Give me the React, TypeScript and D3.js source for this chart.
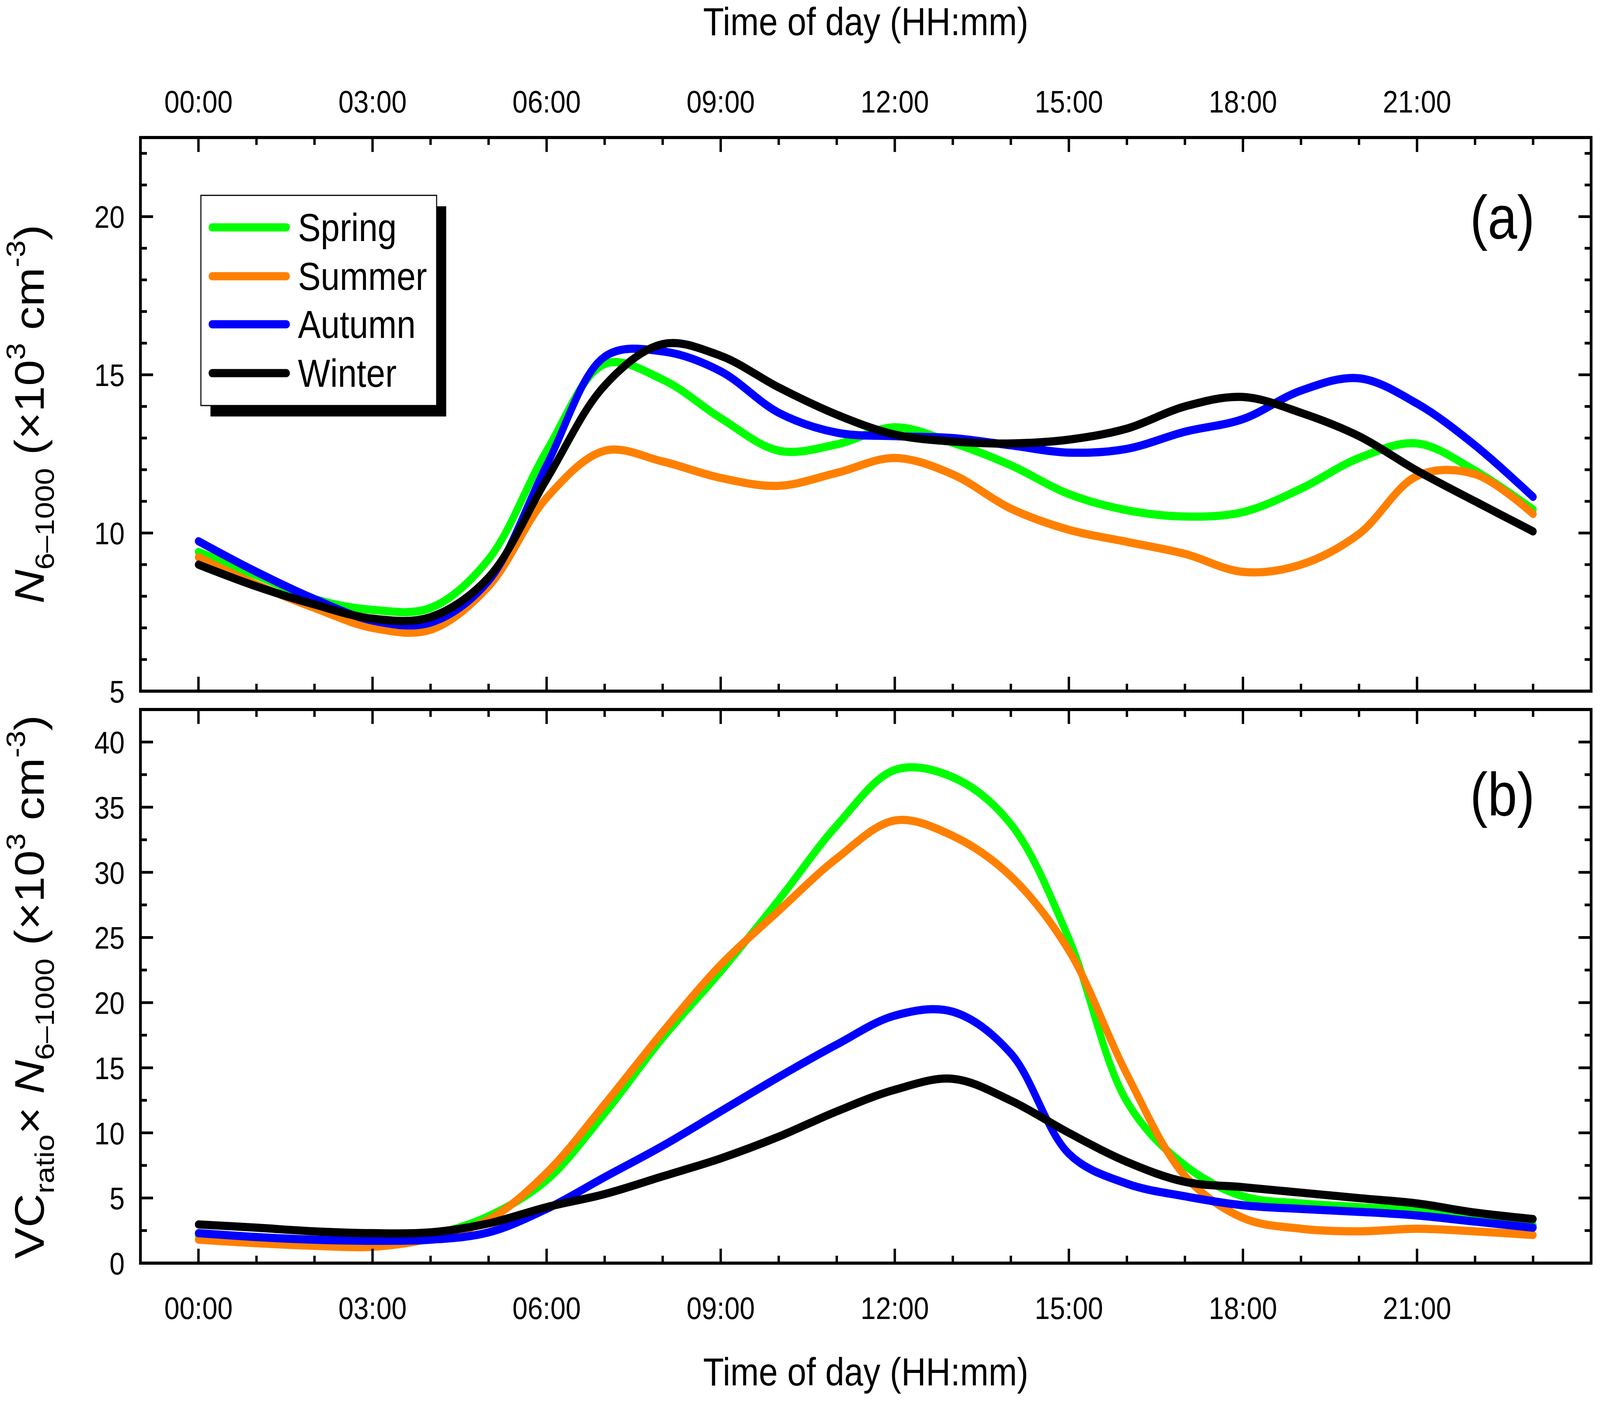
import React from "react"
import * as d3 from "d3"

// hourly diurnal means (hour of day 0..23)
const hours = [0, 1, 2, 3, 4, 5, 6, 7, 8, 9, 10, 11, 12, 13, 14, 15, 16, 17, 18, 19, 20, 21, 22, 23]

// (a) N6-1000 (x10^3 cm^-3)
const springN = [9.4, 8.66, 7.91, 7.57, 7.63, 9.17, 12.6, 15.34, 14.85, 13.63, 12.6, 12.8, 13.34, 12.85, 12.14, 11.23, 10.72, 10.52, 10.66, 11.4, 12.37, 12.83, 11.97, 10.74]
const summerN = [9.23, 8.37, 7.63, 7.0, 6.94, 8.31, 11.11, 12.6, 12.26, 11.74, 11.49, 11.9, 12.37, 11.85, 10.77, 10.1, 9.72, 9.34, 8.77, 9.0, 9.97, 11.8, 11.86, 10.6]
const autumnN = [9.74, 8.77, 7.91, 7.23, 7.17, 8.49, 12.14, 15.57, 15.74, 15.11, 13.8, 13.17, 13.06, 13.0, 12.77, 12.54, 12.66, 13.2, 13.6, 14.5, 14.89, 14.09, 12.77, 11.14]
const winterN = [9.0, 8.31, 7.74, 7.29, 7.34, 8.6, 11.69, 14.66, 15.97, 15.6, 14.6, 13.74, 13.11, 12.89, 12.83, 12.95, 13.3, 14.0, 14.3, 13.8, 13.06, 11.97, 11.0, 10.05]

// (b) VCratio x N6-1000 (x10^3 cm^-3)
const springVC = [2.1, 1.8, 1.7, 1.66, 2.15, 3.6, 6.38, 11.5, 17.3, 22.4, 27.88, 33.6, 37.86, 37.3, 33.7, 24.9, 12.4, 7.5, 5.13, 4.58, 4.3, 4.02, 3.47, 2.91]
const summerVC = [1.8, 1.53, 1.33, 1.25, 1.9, 3.33, 6.93, 12.2, 17.75, 22.9, 27.05, 31.07, 33.98, 32.8, 29.7, 24.0, 14.5, 6.7, 3.47, 2.64, 2.44, 2.64, 2.44, 2.16]
const autumnVC = [2.3, 2.0, 1.8, 1.72, 1.8, 2.36, 4.16, 6.6, 9.0, 11.65, 14.29, 16.78, 19.0, 19.3, 16.1, 8.4, 6.1, 5.13, 4.44, 4.16, 3.94, 3.66, 3.19, 2.72]
const winterVC = [2.97, 2.72, 2.44, 2.3, 2.36, 3.05, 4.3, 5.3, 6.66, 8.04, 9.71, 11.65, 13.31, 14.15, 12.48, 10.0, 7.77, 6.24, 5.83, 5.41, 4.99, 4.58, 3.88, 3.38]

const seasons = ["Spring", "Summer", "Autumn", "Winter"]
const colors = ["#00ff00", "#ff8000", "#0000ff", "#000000"]

const timeTicks = [0, 3, 6, 9, 12, 15, 18, 21]
const timeLabels = ["00:00", "03:00", "06:00", "09:00", "12:00", "15:00", "18:00", "21:00"]
const yTicksA = [5, 10, 15, 20]
const yTicksB = [0, 5, 10, 15, 20, 25, 30, 35, 40]

const W = 4683
const H = 3591
const FONT = "'Liberation Sans', Arial, sans-serif"
const left = 411
const right = 4657
const MAJOR = 37
const MINOR = 19
const LINE_W = 21

const x = d3.scaleLinear().domain([-1, 24]).range([left, right])

interface PanelProps {
  top: number
  bottom: number
  domain: [number, number]
  majors: number[]
  minorStep: number
  series: number[][]
  label: string
  labelY: number
}

function Panel({ top, bottom, domain, majors, minorStep, series, label, labelY }: PanelProps) {
  const y = d3.scaleLinear().domain(domain).range([bottom, top])
  const line = d3
    .line<number>()
    .x((_, i) => x(hours[i]))
    .y((d) => y(d))
    .curve(d3.curveCatmullRom.alpha(0.5))

  const minorY = d3.range(domain[0], domain[1] + 1e-6, minorStep).filter((v) => !majors.includes(v))
  const minorX = hours.filter((h) => !timeTicks.includes(h))

  return (
    <g>
      {series.map((s, i) => (
        <path
          key={seasons[i]}
          d={line(s) || ""}
          fill="none"
          stroke={colors[i]}
          strokeWidth={LINE_W}
          strokeLinecap="round"
          strokeLinejoin="round"
        />
      ))}
      <g stroke="#000" strokeWidth={7}>
        {timeTicks.map((h) => (
          <g key={"xm" + h}>
            <line x1={x(h)} x2={x(h)} y1={top} y2={top + MAJOR} />
            <line x1={x(h)} x2={x(h)} y1={bottom} y2={bottom - MAJOR} />
          </g>
        ))}
        {minorX.map((h) => (
          <g key={"xn" + h}>
            <line x1={x(h)} x2={x(h)} y1={top} y2={top + MINOR} />
            <line x1={x(h)} x2={x(h)} y1={bottom} y2={bottom - MINOR} />
          </g>
        ))}
        {majors.map((v) => (
          <g key={"ym" + v}>
            <line x1={left} x2={left + MAJOR} y1={y(v)} y2={y(v)} />
            <line x1={right} x2={right - MAJOR} y1={y(v)} y2={y(v)} />
          </g>
        ))}
        {minorY.map((v) => (
          <g key={"yn" + v}>
            <line x1={left} x2={left + MINOR} y1={y(v)} y2={y(v)} />
            <line x1={right} x2={right - MINOR} y1={y(v)} y2={y(v)} />
          </g>
        ))}
      </g>
      <rect x={left} y={top} width={right - left} height={bottom - top} fill="none" stroke="#000" strokeWidth={8} />
      {majors.map((v) => (
        <text key={"yl" + v} x={365} y={y(v) + 29} textAnchor="end" fontSize={80}>
          {v}
        </text>
      ))}
      <text x={4492} y={labelY} textAnchor="end" fontSize={155}>
        {label}
      </text>
    </g>
  )
}

function Legend() {
  const rows = [582, 707, 830, 955]
  return (
    <g>
      <rect x={616} y={528} width={690} height={538} fill="#000" />
      <rect x={588} y={500} width={690} height={538} fill="#fff" stroke="#000" strokeWidth={3} />
      {seasons.map((s, i) => (
        <g key={s}>
          <line x1={621} x2={838} y1={rows[i]} y2={rows[i]} stroke={colors[i]} strokeWidth={LINE_W} strokeLinecap="round" />
          <text x={872} y={rows[i] + 35} fontSize={100}>
            {s}
          </text>
        </g>
      ))}
    </g>
  )
}

export default function App() {
  const sub = 78
  return (
    <div>
      <style>{`html,body{margin:0;padding:0;overflow:hidden}`}</style>
      <svg
        viewBox={`0 0 ${W} ${H}`}
        preserveAspectRatio="none"
        fontFamily={FONT}
        style={{ display: "block", width: "100vw", height: "100vh" }}
      >
        <rect width={W} height={H} fill="#fff" />
        <Panel
          top={352}
          bottom={1769}
          domain={[5, 22.5]}
          majors={yTicksA}
          minorStep={1}
          series={[springN, summerN, autumnN, winterN]}
          label="(a)"
          labelY={610}
        />
        <Panel
          top={1816}
          bottom={3233}
          domain={[0, 42.5]}
          majors={yTicksB}
          minorStep={2.5}
          series={[springVC, summerVC, autumnVC, winterVC]}
          label="(b)"
          labelY={2087}
        />
        <Legend />

        {/* time tick labels, top of (a) and bottom of (b) */}
        {timeTicks.map((h, i) => (
          <g key={"tl" + h}>
            <text x={x(h)} y={288} textAnchor="middle" fontSize={80}>
              {timeLabels[i]}
            </text>
            <text x={x(h)} y={3376} textAnchor="middle" fontSize={80}>
              {timeLabels[i]}
            </text>
          </g>
        ))}
        <text x={(left + right) / 2} y={90} textAnchor="middle" fontSize={100}>
          Time of day (HH:mm)
        </text>
        <text x={(left + right) / 2} y={3546} textAnchor="middle" fontSize={100}>
          Time of day (HH:mm)
        </text>

        {/* y titles */}
        <text transform="translate(128,1060) rotate(-90)" textAnchor="middle" fontSize={120} style={{ whiteSpace: "pre" }}>
          <tspan fontStyle="italic">N</tspan>
          <tspan fontSize={sub} dy={30}>6–1000</tspan>
          <tspan dy={-30}>{" (×10"}</tspan>
          <tspan fontSize={sub} dy={-55}>3</tspan>
          <tspan dy={55}>{" cm"}</tspan>
          <tspan fontSize={sub} dy={-55}>-3</tspan>
          <tspan dy={55}>)</tspan>
        </text>
        <text transform="translate(128,2526) rotate(-90)" textAnchor="middle" fontSize={120} style={{ whiteSpace: "pre" }}>
          <tspan>VC</tspan>
          <tspan fontSize={sub} dy={30}>ratio</tspan>
          <tspan dy={-30}>{"× "}</tspan>
          <tspan fontStyle="italic">N</tspan>
          <tspan fontSize={sub} dy={30}>6–1000</tspan>
          <tspan dy={-30}>{" (×10"}</tspan>
          <tspan fontSize={sub} dy={-55}>3</tspan>
          <tspan dy={55}>{" cm"}</tspan>
          <tspan fontSize={sub} dy={-55}>-3</tspan>
          <tspan dy={55}>)</tspan>
        </text>
      </svg>
    </div>
  )
}
